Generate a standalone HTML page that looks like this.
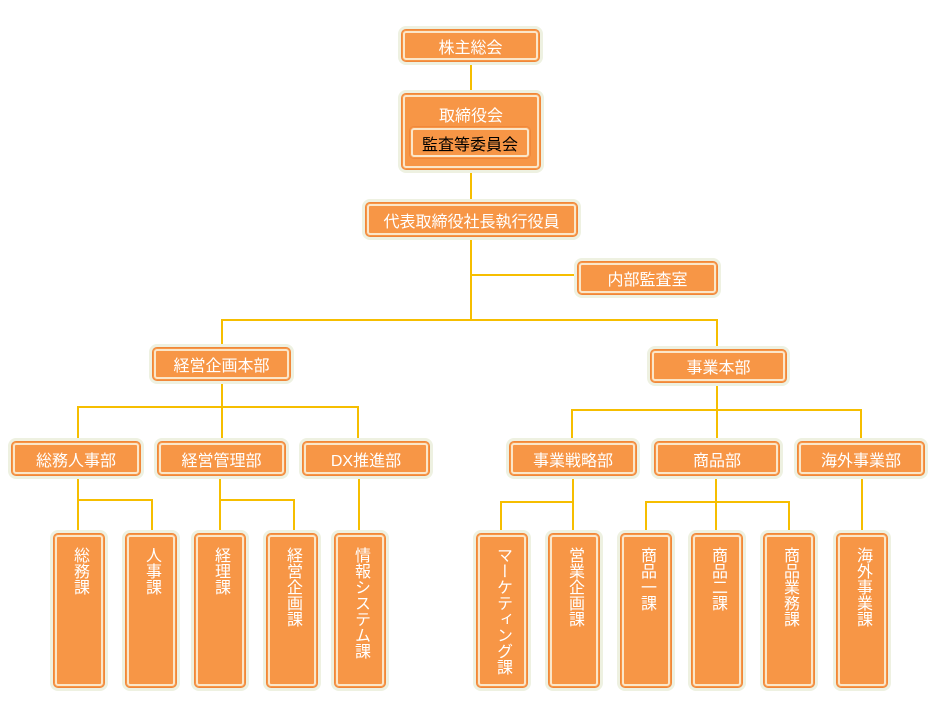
<!DOCTYPE html>
<html><head><meta charset="utf-8"><style>
body{margin:0;background:#fff;width:942px;height:718px;position:relative;overflow:hidden;font-family:"Liberation Sans","Noto Sans CJK JP",sans-serif}
.b{position:absolute;box-sizing:border-box;background:#f79646;border:1px solid #f0873a;border-radius:5px;
box-shadow:0 0 0 3px #eef1e1,inset 0 0 0 1px #f79646,inset 0 0 0 3px #fbe6c9;color:#fff;font-size:16px;
display:flex;align-items:center;justify-content:center}
.v{align-items:flex-start;padding-top:13px}
.v span{writing-mode:vertical-rl;line-height:18px}
.l{position:absolute;background:#f6be00}
</style></head><body>
<div class="l" style="left:470px;top:62px;width:2px;height:31px"></div>
<div class="l" style="left:470px;top:170px;width:2px;height:32px"></div>
<div class="l" style="left:470px;top:237px;width:2px;height:84px"></div>
<div class="l" style="left:470px;top:274px;width:107px;height:2px"></div>
<div class="l" style="left:221px;top:319px;width:497px;height:2px"></div>
<div class="l" style="left:221px;top:319px;width:2px;height:28px"></div>
<div class="l" style="left:716px;top:319px;width:2px;height:30px"></div>
<div class="l" style="left:221px;top:381px;width:2px;height:27px"></div>
<div class="l" style="left:77px;top:406px;width:282px;height:2px"></div>
<div class="l" style="left:77px;top:406px;width:2px;height:35px"></div>
<div class="l" style="left:221px;top:406px;width:2px;height:35px"></div>
<div class="l" style="left:357px;top:406px;width:2px;height:35px"></div>
<div class="l" style="left:716px;top:383px;width:2px;height:27px"></div>
<div class="l" style="left:571px;top:409px;width:291px;height:2px"></div>
<div class="l" style="left:571px;top:409px;width:2px;height:32px"></div>
<div class="l" style="left:716px;top:409px;width:2px;height:32px"></div>
<div class="l" style="left:860px;top:409px;width:2px;height:32px"></div>
<div class="l" style="left:77px;top:476px;width:2px;height:57px"></div>
<div class="l" style="left:77px;top:499px;width:76px;height:2px"></div>
<div class="l" style="left:151px;top:499px;width:2px;height:34px"></div>
<div class="l" style="left:219px;top:476px;width:2px;height:57px"></div>
<div class="l" style="left:219px;top:499px;width:76px;height:2px"></div>
<div class="l" style="left:293px;top:499px;width:2px;height:34px"></div>
<div class="l" style="left:358px;top:476px;width:2px;height:57px"></div>
<div class="l" style="left:572px;top:476px;width:2px;height:57px"></div>
<div class="l" style="left:500px;top:501px;width:74px;height:2px"></div>
<div class="l" style="left:500px;top:501px;width:2px;height:32px"></div>
<div class="l" style="left:715px;top:476px;width:2px;height:57px"></div>
<div class="l" style="left:645px;top:501px;width:145px;height:2px"></div>
<div class="l" style="left:645px;top:501px;width:2px;height:32px"></div>
<div class="l" style="left:788px;top:501px;width:2px;height:32px"></div>
<div class="l" style="left:861px;top:476px;width:2px;height:57px"></div>

<div class="b" style="left:401px;top:29px;width:139px;height:33px">株主総会</div>
<div class="b" style="left:401px;top:93px;width:140px;height:77px;align-items:flex-start;padding-top:8px">取締役会</div>
<div class="b" style="left:409px;top:126px;width:122px;height:33px;color:#000;box-shadow:inset 0 0 0 1px #f79646,inset 0 0 0 3px #fbe6c9">監査等委員会</div>
<div class="b" style="left:365px;top:202px;width:213px;height:35px">代表取締役社長執行役員</div>
<div class="b" style="left:577px;top:261px;width:141px;height:34px">内部監査室</div>
<div class="b" style="left:152px;top:347px;width:139px;height:34px">経営企画本部</div>
<div class="b" style="left:650px;top:349px;width:137px;height:34px">事業本部</div>
<div class="b" style="left:11px;top:441px;width:130px;height:35px">総務人事部</div>
<div class="b" style="left:157px;top:441px;width:129px;height:35px">経営管理部</div>
<div class="b" style="left:302px;top:441px;width:128px;height:35px">DX推進部</div>
<div class="b" style="left:509px;top:441px;width:128px;height:35px">事業戦略部</div>
<div class="b" style="left:654px;top:441px;width:126px;height:35px">商品部</div>
<div class="b" style="left:797px;top:441px;width:128px;height:35px">海外事業部</div>

<div class="b v" style="left:53px;top:533px;width:52px;height:155px"><span>総務課</span></div>
<div class="b v" style="left:125px;top:533px;width:52px;height:155px"><span>人事課</span></div>
<div class="b v" style="left:194px;top:533px;width:52px;height:155px"><span>経理課</span></div>
<div class="b v" style="left:266px;top:533px;width:52px;height:155px"><span>経営企画課</span></div>
<div class="b v" style="left:334px;top:533px;width:52px;height:155px"><span>情報システム課</span></div>
<div class="b v" style="left:476px;top:533px;width:52px;height:155px"><span>マーケティング課</span></div>
<div class="b v" style="left:548px;top:533px;width:52px;height:155px"><span>営業企画課</span></div>
<div class="b v" style="left:620px;top:533px;width:52px;height:155px"><span>商品一課</span></div>
<div class="b v" style="left:691px;top:533px;width:52px;height:155px"><span>商品二課</span></div>
<div class="b v" style="left:763px;top:533px;width:52px;height:155px"><span>商品業務課</span></div>
<div class="b v" style="left:836px;top:533px;width:52px;height:155px"><span>海外事業課</span></div>
</body></html>
